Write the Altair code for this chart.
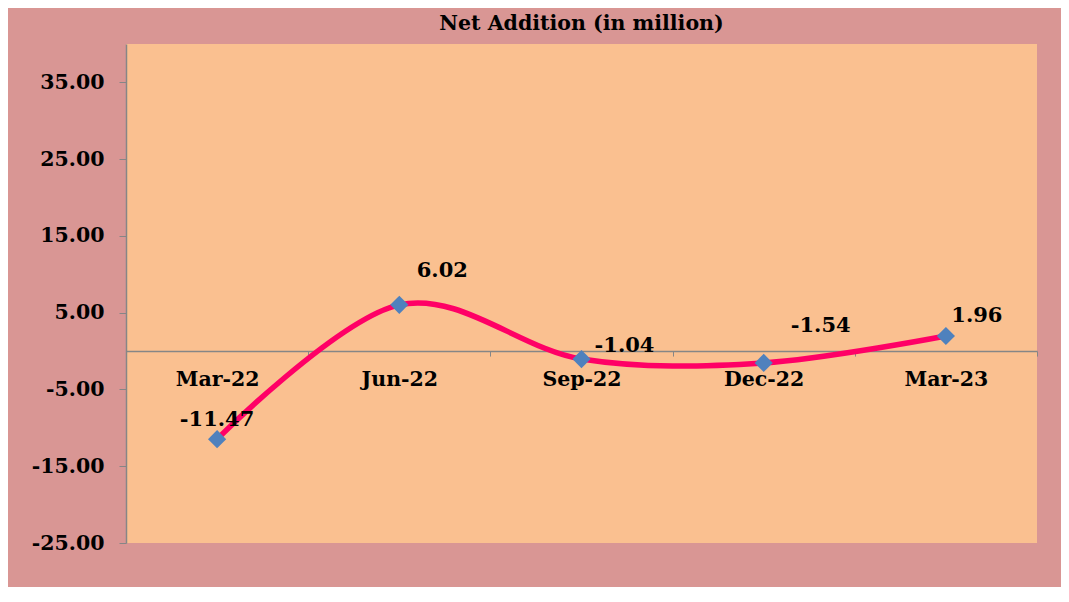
import altair as alt
import pandas as pd

quarters = ["Mar-22", "Jun-22", "Sep-22", "Dec-22", "Mar-23"]
net_addition = [-11.47, 6.02, -1.04, -1.54, 1.96]
y_ticks = [-25, -15, -5, 5, 15, 25, 35]
y_min, y_max = -25, 40

df = pd.DataFrame({"quarter": quarters, "value": net_addition})

W, H = 911, 499
FONT = "DejaVu Serif"
GRAY = "#868686"
zero_offset = -H * (0 - y_min) / (y_max - y_min)
HYPHEN_EXPR = "replace(format(datum.value, '.2f'), '\u2212', '-')"

x_enc = alt.X(
    "quarter:N",
    sort=quarters,
    scale=alt.Scale(type="band", paddingInner=0, paddingOuter=0),
    axis=alt.Axis(
        title=None, labelAngle=0, labelFont=FONT, labelFontSize=20.5,
        labelFontWeight="bold", labelColor="black", tickBand="extent",
        tickSize=5, tickColor=GRAY, domainColor=GRAY, domainWidth=1.5,
        offset=zero_offset, labelPadding=13, grid=False,
    ),
)
y_enc = alt.Y(
    "value:Q",
    scale=alt.Scale(domain=[y_min, y_max], nice=False, zero=False),
    axis=alt.Axis(
        title=None, values=y_ticks, labelExpr=HYPHEN_EXPR, labelFont=FONT,
        labelFontSize=20.5, labelFontWeight="bold", labelColor="black",
        tickSize=7, tickColor=GRAY, domainColor=GRAY, domainWidth=1.5,
        labelPadding=15, grid=False,
    ),
)

base = alt.Chart(df).encode(x=x_enc, y=y_enc)

line = base.mark_line(color="#FF0066", strokeWidth=5.5, interpolate="cardinal")
points = base.mark_point(shape="diamond", filled=True, size=330, color="#4F81BD", opacity=1)

label_offsets = {
    "Mar-22": (0, -19),
    "Jun-22": (43, -34),
    "Sep-22": (43, -13),
    "Dec-22": (57, -37),
    "Mar-23": (31, -20),
}
label_layers = []
for q in quarters:
    dx, dy = label_offsets[q]
    label_layers.append(
        base.transform_filter(alt.datum.quarter == q)
        .transform_calculate(label=HYPHEN_EXPR)
        .mark_text(font=FONT, fontSize=21, fontWeight="bold", color="black",
                   dx=dx, dy=dy, align="center", baseline="middle")
        .encode(text="label:N")
    )

chart = (
    alt.layer(line, points, *label_layers)
    .properties(
        width=W, height=H,
        title=alt.TitleParams(
            "Net Addition (in million)", font=FONT, fontSize=20.5,
            fontWeight="bold", color="black", offset=10, anchor="middle",
        ),
        background="#D99694",
        autosize=alt.AutoSizeParams(type="none"),
        padding={"left": 118, "top": 36, "right": 24, "bottom": 44},
    )
    .configure_view(fill="#FAC090", stroke=None)
)

chart.save("out.html", embed_options={"renderer": "svg", "actions": False})
